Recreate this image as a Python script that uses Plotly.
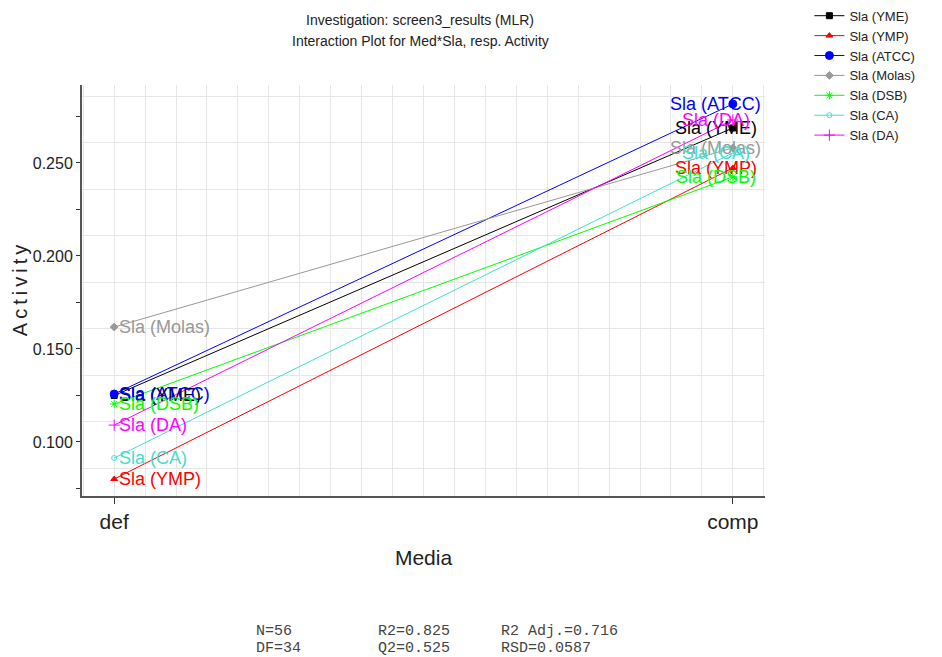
import plotly.graph_objects as go

# ---- data ----
media = ["def", "comp"]
series_names = ["Sla (YME)", "Sla (YMP)", "Sla (ATCC)", "Sla (Molas)", "Sla (DSB)", "Sla (CA)", "Sla (DA)"]
val_def = [0.1250, 0.0801, 0.1258, 0.1618, 0.1204, 0.0914, 0.1091]
val_comp = [0.2688, 0.2473, 0.2817, 0.2581, 0.2425, 0.2554, 0.2731]
colors = ["#000000", "#FF0000", "#0000FF", "#999999", "#00FF00", "#40E0D0", "#FF00FF"]
symbols = ["square", "triangle-up", "circle", "diamond", "asterisk-open", "circle-open", "cross-thin-open"]
msizes = [6, 6, 8, 6, 7, 5, 8]

y_tickvals = [0.075, 0.100, 0.125, 0.150, 0.175, 0.200, 0.225, 0.250, 0.275]
y_ticktext = ["", "0.100", "", "0.150", "", "0.200", "", "0.250", ""]

title_lines = ["Investigation: screen3_results (MLR)", "Interaction Plot for Med*Sla, resp. Activity"]
stats_cols = [["N=56", "DF=34"], ["R2=0.825", "Q2=0.525"], ["R2 Adj.=0.716", "RSD=0.0587"]]

xpos = [0, 1]

fig = go.Figure()
for name, d, c, col, sym, ms in zip(series_names, val_def, val_comp, colors, symbols, msizes):
    fig.add_trace(go.Scatter(
        x=xpos, y=[d, c], mode="lines+markers", name=name,
        line=dict(color=col, width=1),
        marker=dict(symbol=sym, size=ms, color=col, line=dict(color=col, width=1)),
    ))

annotations = []
for name, d, c, col in zip(series_names, val_def, val_comp, colors):
    annotations.append(dict(x=xpos[0], y=d, xref="x", yref="y", text=name, showarrow=False,
                            xanchor="left", yanchor="middle", xshift=3,
                            font=dict(family="Liberation Sans, Arial", size=18, color=col)))
    annotations.append(dict(x=xpos[1], y=c, xref="x", yref="y", text=name, showarrow=False,
                            xanchor="center", yanchor="middle", xshift=-17,
                            font=dict(family="Liberation Sans, Arial", size=18, color=col)))

for line, yp in zip(title_lines, [1.158, 1.107]):
    annotations.append(dict(x=0.495, y=yp, xref="paper", yref="paper", showarrow=False,
                            text=line, xanchor="center", yanchor="middle",
                            font=dict(family="Liberation Sans, Arial", size=14, color="#222222")))

for col_texts, xp in zip(stats_cols, [0.2518, 0.4305, 0.6105]):
    for t, yp in zip(col_texts, [-0.330, -0.372]):
        annotations.append(dict(x=xp, y=yp, xref="paper", yref="paper", showarrow=False,
                                text=t.replace(" ", "&nbsp;"), xanchor="left", yanchor="middle",
                                font=dict(family="Liberation Mono, Courier New", size=15, color="#444444")))

grid_col = "#E6E6E6"
fig.update_layout(
    width=942, height=657,
    margin=dict(l=82, r=177, t=85, b=161, autoexpand=False),
    plot_bgcolor="white", paper_bgcolor="white",
    showlegend=True,
    legend=dict(x=1.065, y=1.205, xanchor="left", yanchor="top",
                font=dict(family="Liberation Sans, Arial", size=13, color="#222222"),
                bgcolor="rgba(0,0,0,0)", tracegroupgap=0),
    annotations=annotations,
    xaxis=dict(
        range=[-0.052, 1.052], tickmode="array", tickvals=xpos, ticktext=media,
        showgrid=False, zeroline=False, showline=True, linecolor="#555555", linewidth=2,
        ticks="outside", ticklen=6, tickcolor="#333333",
        tickfont=dict(family="Liberation Sans, Arial", size=21, color="#222222"),
        title=dict(text="Media", font=dict(family="Liberation Sans, Arial", size=21, color="#222222"), standoff=18),
        minor=dict(tickmode="linear", tick0=0, dtick=0.05, showgrid=True, gridcolor=grid_col, gridwidth=1, ticks=""),
    ),
    yaxis=dict(
        range=[0.07097, 0.2919], tickmode="array", tickvals=y_tickvals, ticktext=y_ticktext,
        showgrid=False, zeroline=False, showline=True, linecolor="#555555", linewidth=2,
        ticks="outside", ticklen=4, tickcolor="#333333",
        tickfont=dict(family="Liberation Sans, Arial", size=16, color="#222222"),
        title=dict(text="A\u2009c\u2009t\u2009i\u2009v\u2009i\u2009t\u2009y",
                   font=dict(family="Liberation Sans, Arial", size=20, color="#222222"), standoff=0),
        minor=dict(tickmode="linear", tick0=0.0858, dtick=0.025, showgrid=True, gridcolor=grid_col, gridwidth=1, ticks=""),
    ),
)

fig.write_html("out.html")
